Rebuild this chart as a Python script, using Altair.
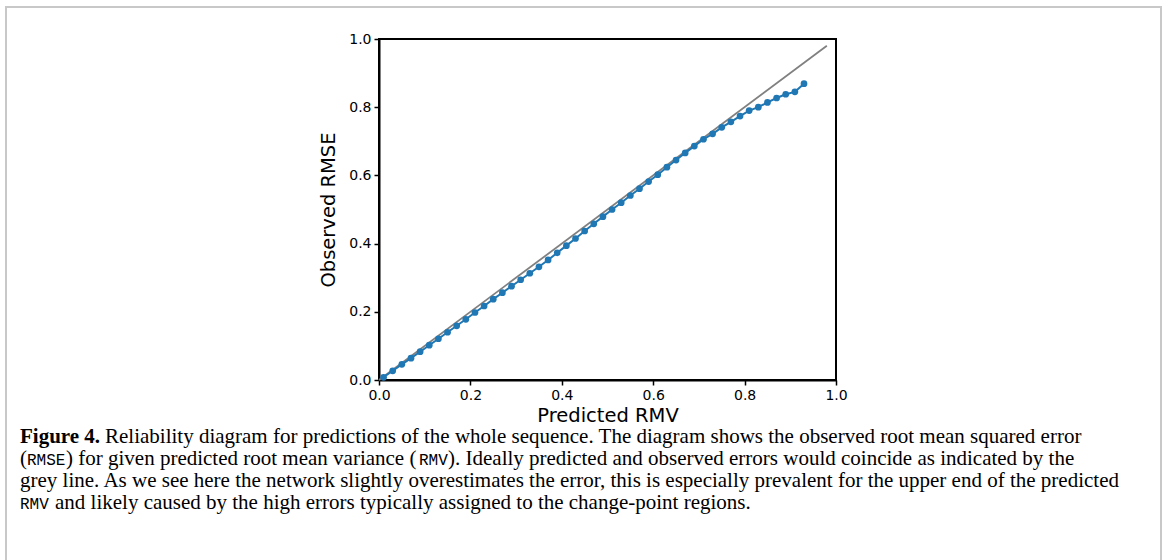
import altair as alt
import pandas as pd

# Reliability diagram: predicted RMV bin centres vs observed RMSE
predicted_rmv = [
    0.01, 0.03, 0.05, 0.07, 0.09, 0.11, 0.13, 0.15, 0.17, 0.19,
    0.21, 0.23, 0.25, 0.27, 0.29, 0.31, 0.33, 0.35, 0.37, 0.39,
    0.41, 0.43, 0.45, 0.47, 0.49, 0.51, 0.53, 0.55, 0.57, 0.59,
    0.61, 0.63, 0.65, 0.67, 0.69, 0.71, 0.73, 0.75, 0.77, 0.79,
    0.81, 0.83, 0.85, 0.87, 0.89, 0.91, 0.93,
]
observed_rmse = [
    0.008, 0.027, 0.046, 0.064, 0.083, 0.102, 0.121, 0.140, 0.159, 0.178,
    0.198, 0.217, 0.237, 0.256, 0.275, 0.294, 0.313, 0.332, 0.352, 0.373,
    0.394, 0.415, 0.437, 0.458, 0.479, 0.500, 0.520, 0.541, 0.561, 0.582,
    0.602, 0.624, 0.645, 0.666, 0.686, 0.706, 0.722, 0.741, 0.757, 0.774,
    0.790, 0.800, 0.814, 0.827, 0.838, 0.845, 0.869,
]
# ideal calibration line
ideal_x = [0.0, 0.98]
ideal_y = [0.0, 0.98]

axis_ticks = [0.0, 0.2, 0.4, 0.6, 0.8, 1.0]

# caption pieces: (text, x, y, font, weight, size)
SERIF = "Liberation Serif"
MONO = "Liberation Mono"
CS = 21     # caption serif size
MS = 16     # caption mono size
caption = [
    ("Figure 4.", 20, 443, SERIF, "bold", CS),
    ("Reliability diagram for predictions of the whole sequence. The diagram shows the observed root mean squared error",
     105, 443, SERIF, "normal", CS),
    ("(", 20, 465, SERIF, "normal", CS),
    ("RMSE", 27, 465, MONO, "normal", MS),
    (") for given predicted root mean variance (", 66, 465, SERIF, "normal", CS),
    ("RMV", 419, 465, MONO, "normal", MS),
    ("). Ideally predicted and observed errors would coincide as indicated by the", 448, 465, SERIF, "normal", CS),
    ("grey line. As we see here the network slightly overestimates the error, this is especially prevalent for the upper end of the predicted",
     20, 487, SERIF, "normal", CS),
    ("RMV", 20, 509, MONO, "normal", MS),
    ("and likely caused by the high errors typically assigned to the change-point regions.", 55, 509, SERIF, "normal", CS),
]

LEFT, TOP = 379, 39
W, H = 457, 341

pts = pd.DataFrame({"rmv": predicted_rmv, "rmse": observed_rmse})
ideal = pd.DataFrame({"rmv": ideal_x, "rmse": ideal_y})

xscale = alt.Scale(domain=[0, 1], nice=False, zero=False)
yscale = alt.Scale(domain=[0, 1], nice=False, zero=False)

common = dict(grid=False, format=".1f", labelFontSize=14, titleFontSize=19.5,
              titleFontWeight="normal", labelFont="DejaVu Sans", titleFont="DejaVu Sans",
              tickSize=5, tickWidth=1.5, tickColor="black", domainColor="black",
              domainWidth=2, labelColor="black", titleColor="black",
              labelPadding=3, labelFlush=False)
xaxis = alt.Axis(values=axis_ticks, title="Predicted RMV", titlePadding=4, **common)
yaxis = alt.Axis(values=axis_ticks, title="Observed RMSE", titlePadding=10, **common)

ideal_line = alt.Chart(ideal).mark_line(color="#808080", strokeWidth=1.8).encode(
    x=alt.X("rmv:Q", scale=xscale, axis=xaxis),
    y=alt.Y("rmse:Q", scale=yscale, axis=yaxis),
)

curve = alt.Chart(pts).mark_line(
    color="#1f77b4", strokeWidth=2,
    point=alt.OverlayMarkDef(color="#1f77b4", size=45, opacity=1, filled=True),
).encode(x="rmv:Q", y="rmse:Q")

one = pd.DataFrame({"k": [0]})
frame = alt.Chart(one).mark_rect(fill=None, stroke="#c8c8c8", strokeWidth=2).encode(
    x=alt.value(6 - LEFT), x2=alt.value(1161 - LEFT),
    y=alt.value(7 - TOP), y2=alt.value(640 - TOP),
)

texts = []
for txt, px, py, font, weight, size in caption:
    texts.append(
        alt.Chart(one).mark_text(text=txt, align="left", baseline="alphabetic",
                                 font=font, fontWeight=weight, fontSize=size, color="black").encode(
            x=alt.value(px - LEFT), y=alt.value(py - TOP)
        )
    )

chart = alt.layer(frame, ideal_line, curve, *texts).properties(
    width=W, height=H,
    background="white",
    autosize=alt.AutoSizeParams(type="none"),
    padding={"left": LEFT, "top": TOP, "right": 1165 - LEFT - W, "bottom": 560 - TOP - H},
).configure_view(stroke="black", strokeWidth=2)

chart.save("out.html", embed_options={"renderer": "svg", "actions": False})
